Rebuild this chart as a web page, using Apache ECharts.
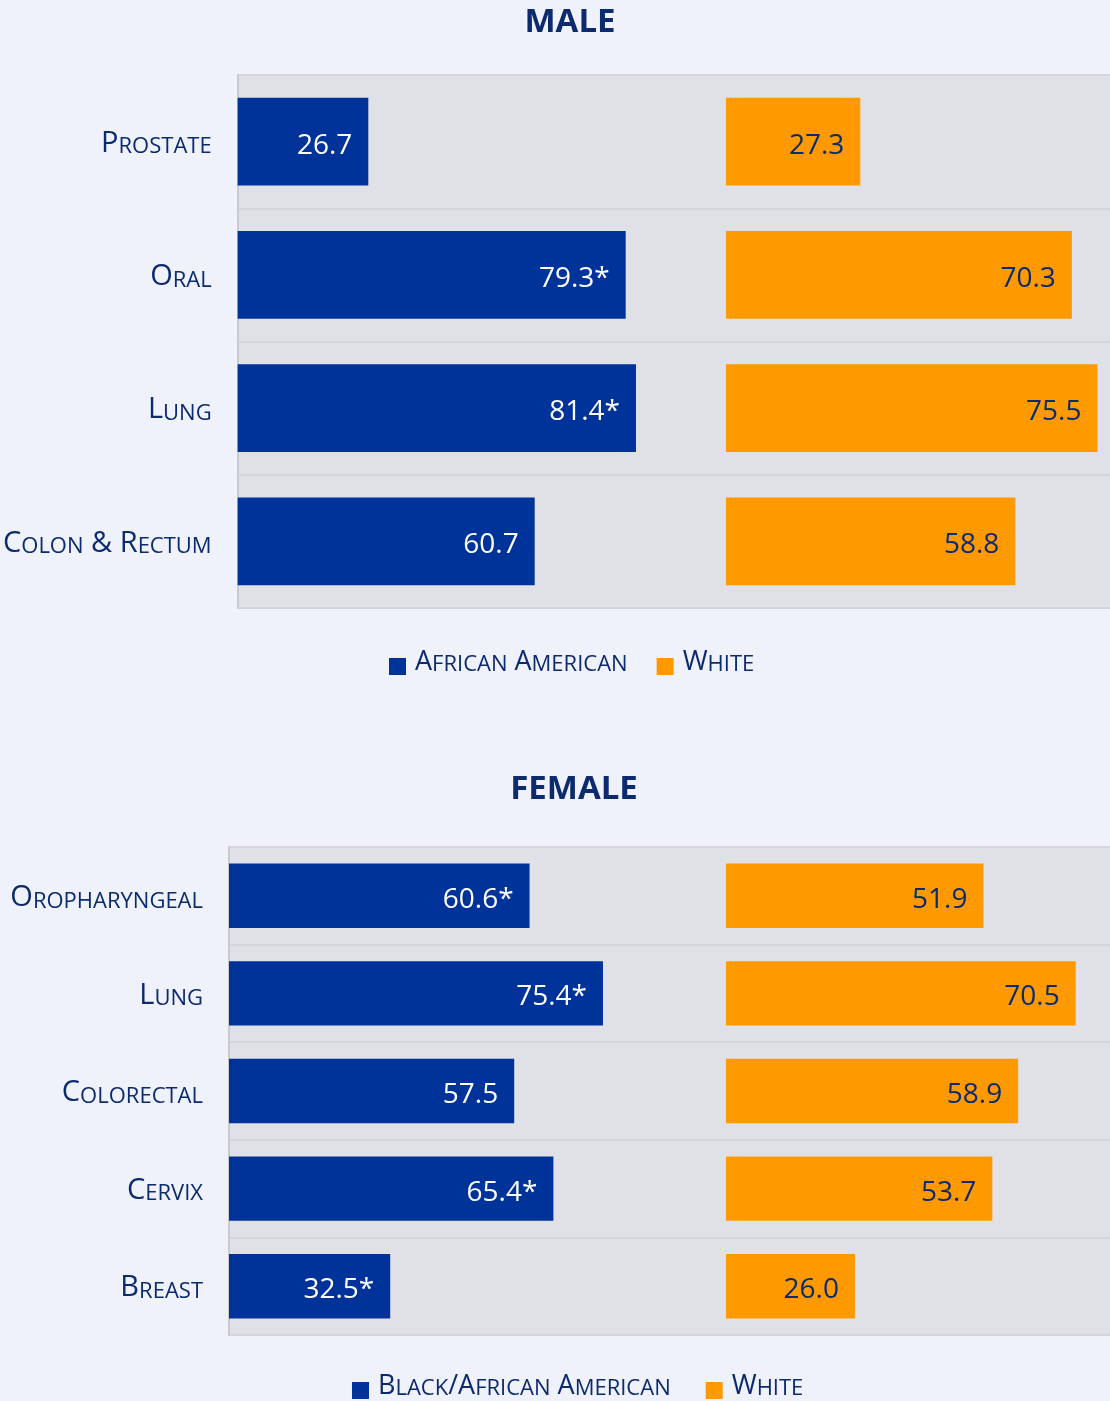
<!DOCTYPE html>
<html>
<head>
<meta charset="utf-8">
<script src="https://cdn.jsdelivr.net/npm/echarts@6/dist/echarts.min.js"></script>
<style>
  html, body { margin: 0; padding: 0; background: #eff2fa; }
  #chart { width: 1110px; height: 1401px; }
</style>
</head>
<body>
<div id="chart"></div>
<script>
// data
const maleCats = ['Prostate', 'Oral', 'Lung', 'Colon & Rectum'];
const maleBlack = [26.7, 79.3, 81.4, 60.7];
const maleBlackSig = [false, true, true, false];
const maleWhite = [27.3, 70.3, 75.5, 58.8];
const maleWhiteSig = [false, false, false, false];

const femaleCats = ['Oropharyngeal', 'Lung', 'Colorectal', 'Cervix', 'Breast'];
const femaleBlack = [60.6, 75.4, 57.5, 65.4, 32.5];
const femaleBlackSig = [true, true, false, true, true];
const femaleWhite = [51.9, 70.5, 58.9, 53.7, 26.0];
const femaleWhiteSig = [false, false, false, false, false];

const NAVY = '#0c2a6e';
const BLUE = '#003399';
const ORANGE = '#ff9900';
const PLOT_BG = '#e0e1e6';
const FONT = 'Open Sans';

// fake small caps with rich text: capitals big, lowercase as small capitals
function smallCaps(s) {
  let out = '', cur = null, buf = '';
  for (const ch of s) {
    const st = (ch >= 'a' && ch <= 'z') ? 's' : 'b';
    if (cur !== null && st !== cur) {
      out += '{' + cur + '|' + buf + '}';
      buf = '';
    }
    cur = st;
    buf += ch.toUpperCase();
  }
  if (buf) out += '{' + cur + '|' + buf + '}';
  return out;
}

function capsRich(big, small) {
  return {
    b: { fontFamily: FONT, fontSize: big, color: NAVY, lineHeight: Math.round(big * 0.57), verticalAlign: 'bottom' },
    s: { fontFamily: FONT, fontSize: small, color: NAVY, lineHeight: Math.round(small * 0.57), verticalAlign: 'bottom' }
  };
}

// panel layout
const panels = [
  { top: 75, height: 533, left: 237, split: 726, right: 1110, scale: 4.92 },
  { top: 847, height: 488, left: 231, split: 726, right: 1110, scale: 4.96 }
];

const grids = [];
const xAxes = [];
const yAxes = [];
panels.forEach(function (p, i) {
  const cats = i === 0 ? maleCats : femaleCats;
  grids.push({ left: p.left - 2, top: p.top, width: p.split - p.left + 2, height: p.height,
    show: true, backgroundColor: PLOT_BG, borderWidth: 0 });
  grids.push({ left: p.split, top: p.top, width: p.right - p.split, height: p.height,
    show: true, backgroundColor: PLOT_BG, borderWidth: 0 });
  xAxes.push({ gridIndex: i * 2, type: 'value', min: 0, max: (p.split - p.left + 2) / p.scale, show: false });
  xAxes.push({ gridIndex: i * 2 + 1, type: 'value', min: 0, max: (p.right - p.split) / p.scale, show: false });
  const split = { show: true, lineStyle: { color: '#d5d6dc', width: 2 } };
  yAxes.push({
    gridIndex: i * 2, type: 'category', inverse: true, data: cats,
    axisLine: { show: true, lineStyle: { color: '#c9cace', width: 2 } },
    axisTick: { show: false },
    splitLine: split,
    axisLabel: {
      margin: 26,
      formatter: function (v) { return smallCaps(v); },
      rich: capsRich(29, 22),
      padding: [16, 0, 0, 0]
    }
  });
  yAxes.push({
    gridIndex: i * 2 + 1, type: 'category', inverse: true, data: cats,
    axisLine: { show: false }, axisTick: { show: false }, axisLabel: { show: false },
    splitLine: split
  });
});

function barSeries(name, axisIdx, values, sig, color, textColor) {
  return {
    name: name,
    type: 'bar',
    xAxisIndex: axisIdx,
    yAxisIndex: axisIdx,
    data: values,
    barWidth: '66%',
    itemStyle: { color: color },
    label: {
      show: true,
      position: 'insideRight',
      distance: 16,
      offset: [0, 4],
      color: textColor,
      fontFamily: FONT,
      fontSize: 28,
      formatter: function (p) {
        return p.value.toFixed(1) + (sig[p.dataIndex] ? '*' : '');
      }
    }
  };
}

function legendFor(names, left, top, gap) {
  return {
    data: names,
    left: left, top: top, padding: 0,
    icon: 'rect', itemWidth: 17, itemHeight: 17, itemGap: gap,
    selectedMode: false,
    formatter: function (n) { return smallCaps(n); },
    textStyle: { padding: [4, 0, 0, 4], rich: capsRich(27, 22) }
  };
}

const chart = echarts.init(document.getElementById('chart'));
chart.setOption({
  backgroundColor: '#eff2fa',
  animation: false,
  title: [
    { text: 'MALE', left: 565, top: 1, textAlign: 'center',
      textStyle: { fontFamily: FONT, fontWeight: 'bold', fontSize: 33, color: NAVY } },
    { text: 'FEMALE', left: 569, top: 768, textAlign: 'center',
      textStyle: { fontFamily: FONT, fontWeight: 'bold', fontSize: 33, color: NAVY } }
  ],
  legend: [
    legendFor(['African American', 'White'], 389, 649, 29),
    legendFor(['Black/African American', 'White'], 352, 1373, 35)
  ],
  grid: grids,
  xAxis: xAxes,
  yAxis: yAxes,
  series: [
    barSeries('African American', 0, maleBlack, maleBlackSig, BLUE, '#ffffff'),
    barSeries('White', 1, maleWhite, maleWhiteSig, ORANGE, NAVY),
    barSeries('Black/African American', 2, femaleBlack, femaleBlackSig, BLUE, '#ffffff'),
    barSeries('White', 3, femaleWhite, femaleWhiteSig, ORANGE, NAVY)
  ]
});
</script>
</body>
</html>
